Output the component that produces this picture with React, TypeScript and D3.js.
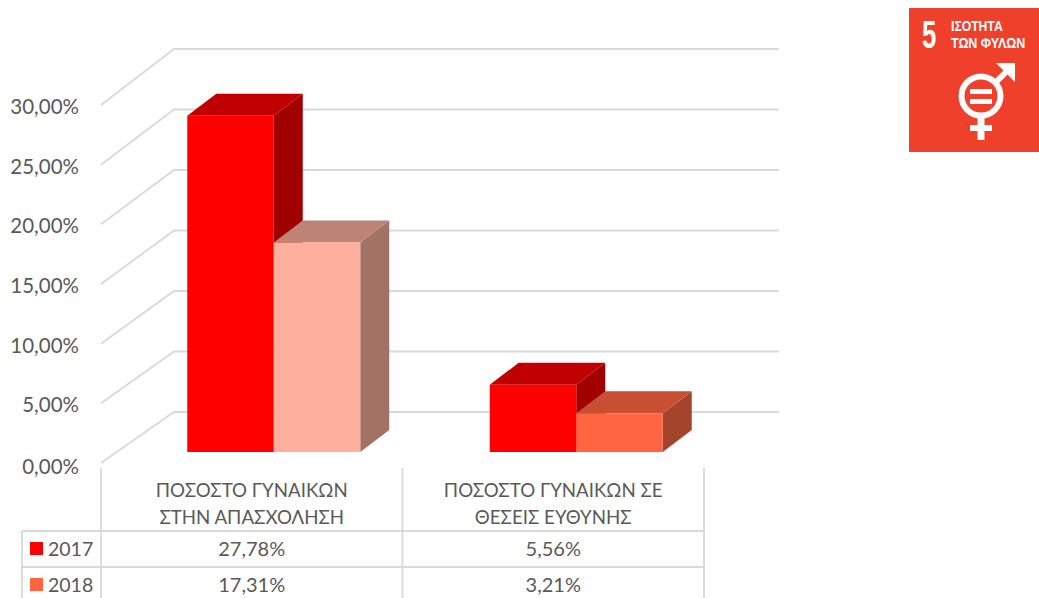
import React, { useRef, useEffect } from "react";
import * as d3 from "d3";

const categories = [
  ["ΠΟΣΟΣΤΟ ΓΥΝΑΙΚΩΝ", "ΣΤΗΝ ΑΠΑΣΧΟΛΗΣΗ"],
  ["ΠΟΣΟΣΤΟ ΓΥΝΑΙΚΩΝ ΣΕ", "ΘΕΣΕΙΣ ΕΥΘΥΝΗΣ"],
];
const years = ["2017", "2018"];
const values2017 = [27.78, 5.56];
const values2018 = [17.31, 3.21];
const ticks = [0, 5, 10, 15, 20, 25, 30];

const FONT = "Lato, 'Open Sans', 'Noto Sans', sans-serif";
const TEXT = "#595959";
const GRID = "#d9d9d9";

const fmt = (v: number) => v.toFixed(2).replace(".", ",") + "%";

// face colours per bar: front, top, side
const faces = [
  [
    { front: "#ff0000", top: "#c00000", side: "#a00000" },
    { front: "#ffaf9e", top: "#bd8375", side: "#a27364" },
  ],
  [
    { front: "#ff0000", top: "#c00000", side: "#a00000" },
    { front: "#ff6540", top: "#c75033", side: "#a4442c" },
  ],
];

const App = () => {
  const svgRef = useRef<SVGSVGElement>(null);
  const width = 1039;
  const height = 598;

  useEffect(() => {
    const svg = d3.select(svgRef.current);
    svg.selectAll("*").remove();
    svg.attr("width", width).attr("height", height);
    svg.append("rect").attr("width", width).attr("height", height).attr("fill", "#fff");

    // walls: front edge of the floor vs back wall
    const yFront = d3.scaleLinear().domain([0, 30]).range([463, 105]);
    const yBack = d3.scaleLinear().domain([0, 30]).range([412, 49]);
    const yBar = d3.scaleLinear().domain([0, 30]).range([452, 89]);
    const xCat = d3.scaleBand<number>().domain([0, 1]).range([101, 704]);
    const depthX = 29;
    const depthY = 22;

    const grid = svg.append("g").attr("fill", "none").attr("stroke", GRID).attr("stroke-width", 1.8);
    ticks.forEach((t) => {
      const path = d3.path();
      path.moveTo(101, yFront(t));
      path.lineTo(174, yBack(t));
      path.lineTo(779, yBack(t));
      grid.append("path").attr("d", path.toString());
    });

    // y axis labels
    svg
      .append("g")
      .selectAll("text")
      .data(ticks)
      .enter()
      .append("text")
      .attr("x", 79)
      .attr("y", (d) => yFront(d) + (d === 0 ? 11 : 9))
      .attr("text-anchor", "end")
      .attr("font-family", FONT)
      .attr("font-size", 20.5)
      .attr("fill", TEXT)
      .text((d) => fmt(d));

    // bars
    const barW = 86.5;
    const series = [values2017, values2018];
    const bars = svg.append("g");
    categories.forEach((_, c) => {
      const x0 = xCat(c)! + xCat.bandwidth() / 2 + 22 + c - barW;
      // draw the shorter, right bar last so it sits over the left bar's side
      series.forEach((vals, s) => {
        const x = x0 + s * barW;
        const top = yBar(vals[c]);
        const bottom = yBar(0);
        const f = faces[c][s];
        const poly = (pts: number[][], fill: string) =>
          bars.append("polygon").attr("points", pts.map((p) => p.join(",")).join(" ")).attr("fill", fill);
        poly(
          [
            [x + barW, top],
            [x + barW + depthX, top - depthY],
            [x + barW + depthX, bottom - depthY],
            [x + barW, bottom],
          ],
          f.side
        );
        poly(
          [
            [x, top],
            [x + depthX, top - depthY],
            [x + barW + depthX, top - depthY],
            [x + barW, top],
          ],
          f.top
        );
        poly(
          [
            [x, top],
            [x + barW, top],
            [x + barW, bottom],
            [x, bottom],
          ],
          f.front
        );
      });
    });

    // data table
    const rowLines = [531, 567];
    const table = svg.append("g").attr("stroke", GRID).attr("stroke-width", 1.8);
    [101, 402.5, 704].forEach((x) => {
      table.append("line").attr("x1", x).attr("x2", x).attr("y1", 468).attr("y2", 598);
    });
    table.append("line").attr("x1", 22).attr("x2", 22).attr("y1", rowLines[0]).attr("y2", 598);
    rowLines.forEach((y) => {
      table.append("line").attr("x1", 22).attr("x2", 704).attr("y1", y).attr("y2", y);
    });

    const label = (x: number, y: number, t: string, size: number, anchor = "middle") =>
      svg
        .append("text")
        .attr("x", x)
        .attr("y", y)
        .attr("text-anchor", anchor)
        .attr("font-family", FONT)
        .attr("font-size", size)
        .attr("fill", TEXT)
        .text(t);

    categories.forEach((lines, c) => {
      const cx = xCat(c)! + xCat.bandwidth() / 2;
      lines.forEach((t, i) => label(cx, 497 + i * 27, t, 18.7));
      series.forEach((vals, s) => label(cx, 556 + s * 36, fmt(vals[c]), 20));
    });
    years.forEach((y, s) => {
      svg
        .append("rect")
        .attr("x", 30)
        .attr("y", 542 + s * 36)
        .attr("width", 13)
        .attr("height", 13)
        .attr("fill", faces[1][s].front);
      label(48, 556 + s * 36, y, 19.5, "start");
    });

    // SDG 5 badge
    const logo = svg.append("g");
    logo.append("rect").attr("x", 909).attr("y", 8).attr("width", 130).attr("height", 144).attr("fill", "#ef402c");
    const logoText = (x: number, y: number, t: string, size: number, sx: number) =>
      logo
        .append("text")
        .attr("transform", `translate(${x},${y}) scale(${sx},1)`)
        .attr("font-family", "'Liberation Sans', Arial, sans-serif")
        .attr("font-weight", "bold")
        .attr("font-size", size)
        .attr("fill", "#fff")
        .text(t);
    logoText(922, 48, "5", 39, 0.66);
    logoText(951, 31, "ΙΣΟΤΗΤΑ", 14, 0.87);
    logoText(951, 48, "ΤΩΝ ΦΥΛΩΝ", 14, 0.89);

    const sym = logo.append("g").attr("stroke", "#fff").attr("fill", "none");
    sym.append("circle").attr("cx", 981).attr("cy", 96).attr("r", 19.5).attr("stroke-width", 6);
    sym.append("line").attr("x1", 981).attr("x2", 981).attr("y1", 117).attr("y2", 140).attr("stroke-width", 7);
    sym.append("line").attr("x1", 970).attr("x2", 992).attr("y1", 128).attr("y2", 128).attr("stroke-width", 6);
    sym.append("line").attr("x1", 995).attr("x2", 1012).attr("y1", 83).attr("y2", 66).attr("stroke-width", 6);
    logo
      .append("polygon")
      .attr("points", "996,63 1015,63 1015,82")
      .attr("fill", "#fff");
    logo.append("rect").attr("x", 970).attr("y", 89).attr("width", 22).attr("height", 5).attr("fill", "#fff");
    logo.append("rect").attr("x", 970).attr("y", 99).attr("width", 22).attr("height", 5).attr("fill", "#fff");
  }, []);

  return <svg ref={svgRef} style={{ position: "absolute", left: 0, top: 0 }}></svg>;
};

export default App;
